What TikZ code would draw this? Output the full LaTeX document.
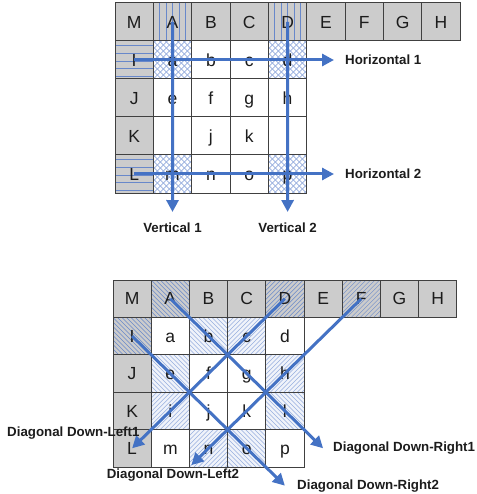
\documentclass[tikz,border=0pt]{standalone}
\usepackage{fontspec}
\setmainfont{Liberation Sans}
\usetikzlibrary{arrows.meta}
\definecolor{flow}{RGB}{68,114,196}
\definecolor{cellgray}{RGB}{204,204,204}
\definecolor{hatchdark}{RGB}{104,136,202}
\definecolor{hatchlight}{RGB}{150,174,222}
\definecolor{tint}{RGB}{240,243,250}
\definecolor{ink}{RGB}{28,28,28}
\tikzset{
  cell/.style={draw=black!75, line width=1pt, inner sep=0pt,
    text height=12.2pt, text depth=0pt, text=ink,
    font=\fontsize{17.5}{20}\selectfont},
  % hatch fills, clipped to the cell outline
  hatchV/.style={path picture={\foreach \k in {1,...,5}{
      \draw[#1,line width=0.7pt]
        ([xshift=\k*6.4pt]path picture bounding box.north west) --
        ([xshift=\k*6.4pt]path picture bounding box.south west);}}},
  hatchH/.style={path picture={\foreach \k in {0,...,4}{
      \draw[#1,line width=0.7pt]
        ([yshift=-4.7pt-\k*7.7pt]path picture bounding box.north west) --
        ([yshift=-4.7pt-\k*7.7pt]path picture bounding box.north east);}}},
  hatchX/.style={path picture={\foreach \k in {-42,-36,...,42}{
      \draw[#1,line width=0.6pt]
        ([xshift=\k pt]path picture bounding box.south west) -- ++(45pt,45pt);
      \draw[#1,line width=0.6pt]
        ([xshift=\k pt]path picture bounding box.north west) -- ++(45pt,-45pt);}}},
  hatchB/.style={path picture={\foreach \k in {-45,-40.5,...,45}{
      \draw[#1,line width=0.5pt]
        ([xshift=\k pt]path picture bounding box.north west) -- ++(45pt,-45pt);}}},
  hatchF/.style={path picture={\foreach \k in {-45,-40.5,...,45}{
      \draw[#1,line width=0.5pt]
        ([xshift=\k pt]path picture bounding box.south west) -- ++(45pt,45pt);}}},
  cgray/.style={cell, fill=cellgray},
  cwhite/.style={cell, fill=white},
  cgrayv/.style={cgray, hatchV=hatchdark},
  cgrayh/.style={cgray, hatchH=hatchdark},
  ccross/.style={cwhite, hatchX=hatchlight},
  cgrayb/.style={cgray, hatchB=hatchdark},
  cgrayf/.style={cgray, hatchF=hatchdark},
  ctintb/.style={cell, fill=tint, hatchB=hatchlight},
  ctintf/.style={cell, fill=tint, hatchF=hatchlight},
  flowline/.style={draw=flow, line width=3pt,
    -{Triangle[length=12pt,width=12pt]}},
  lab/.style={font=\bfseries\fontsize{13.3}{15}\selectfont, text=ink, inner sep=0pt},
}
\begin{document}
\begin{tikzpicture}[x=1pt,y=-1pt]
\useasboundingbox (0,0) rectangle (476,494);

% ---------- upper grid: horizontal and vertical scans ----------
\foreach \r/\c/\t/\s in {
  0/0/M/cgray, 0/1/A/cgrayv, 0/2/B/cgray, 0/3/C/cgray, 0/4/D/cgrayv,
  0/5/E/cgray, 0/6/F/cgray, 0/7/G/cgray, 0/8/H/cgray,
  1/0/I/cgrayh, 1/1/a/ccross, 1/2/b/cwhite, 1/3/c/cwhite, 1/4/d/ccross,
  2/0/J/cgray, 2/1/e/cwhite, 2/2/f/cwhite, 2/3/g/cwhite, 2/4/h/cwhite,
  3/0/K/cgray, 3/1/{}/cwhite, 3/2/j/cwhite, 3/3/k/cwhite, 3/4/{}/cwhite,
  4/0/L/cgrayh, 4/1/m/ccross, 4/2/n/cwhite, 4/3/o/cwhite, 4/4/p/ccross}
  \node[\s, minimum width=38.35pt, minimum height=38pt] (t\r\c)
    at ({115+38.35*(\c+0.5)},{3+38*(\r+0.5)}) {\t};

\coordinate (h1end) at (334,60);
\coordinate (h2end) at (334,174);
\coordinate (v1end) at (172.5,212);
\coordinate (v2end) at (287.6,212);

\draw[flowline] (t10.center) -- (h1end);
\draw[flowline] (t40.center) -- (h2end);
\draw[flowline] (t01.center) -- (v1end);
\draw[flowline] (t04.center) -- (v2end);

\node[lab, anchor=west] (h1lab) at (345,60) {Horizontal 1};
\node[lab, anchor=west] (h2lab) at (345,174) {Horizontal 2};
\node[lab] (v1lab) at (172.5,228) {Vertical 1};
\node[lab] (v2lab) at (287.6,228) {Vertical 2};

% ---------- lower grid: diagonal scans ----------
\foreach \r/\c/\t/\s in {
  0/0/M/cgray, 0/1/A/cgrayb, 0/2/B/cgray, 0/3/C/cgray, 0/4/D/cgrayf,
  0/5/E/cgray, 0/6/F/cgrayf, 0/7/G/cgray, 0/8/H/cgray,
  1/0/I/cgrayb, 1/1/a/cwhite, 1/2/b/ctintb, 1/3/c/ctintf, 1/4/d/cwhite,
  2/0/J/cgray, 2/1/e/ctintb, 2/2/f/cwhite, 2/3/g/cwhite, 2/4/h/ctintf,
  3/0/K/cgray, 3/1/i/ctintf, 3/2/j/cwhite, 3/3/k/cwhite, 3/4/l/ctintb,
  4/0/L/cgray, 4/1/m/cwhite, 4/2/n/ctintf, 4/3/o/ctintb, 4/4/p/cwhite}
  \node[\s, minimum width=38.2pt, minimum height=37.4pt] (b\r\c)
    at ({113+38.2*(\c+0.5)},{280+37.4*(\r+0.5)}) {\t};

\coordinate (dr1end) at ({113+38.2*5.5},{280+37.4*4.5});
\coordinate (dr2end) at ({113+38.2*4.5},{280+37.4*5.5});
\coordinate (dl1end) at ({113+38.2*0.5},{280+37.4*4.5});
\coordinate (dl2end) at ({113+38.2*2.05},{280+37.4*4.95});

\draw[flowline] (b01.center) -- (dr1end);
\draw[flowline] (b10.center) -- (dr2end);
\draw[flowline] (b04.center) -- (dl1end);
\draw[flowline] (b06.center) -- (dl2end);

\node[lab, anchor=west] (dl1lab) at (7,433) {Diagonal Down-Left1};
\node[lab] (dl2lab) at (173,475) {Diagonal Down-Left2};
\node[lab, anchor=west] (dr1lab) at (333,448) {Diagonal Down-Right1};
\node[lab, anchor=west] (dr2lab) at (297,486) {Diagonal Down-Right2};
\end{tikzpicture}
\end{document}
